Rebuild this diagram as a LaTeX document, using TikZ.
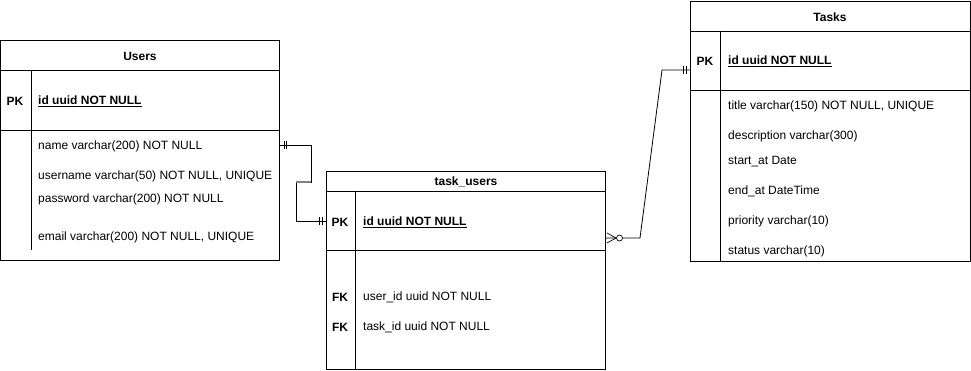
\documentclass[tikz,border=0pt]{standalone}
\usepackage{fontspec}
\setmainfont{Liberation Sans}
\usetikzlibrary{decorations.markings}

\newcommand{\erfont}{\fontsize{12}{14}\selectfont}

\tikzset{
  table/.style={draw, line width=0.9pt, anchor=north west, inner sep=0pt, outer sep=0pt},
  title/.style={font=\erfont\bfseries, yshift=-1pt},
  key/.style={font=\erfont\bfseries, anchor=center, yshift=-1pt},
  field/.style={font=\erfont, anchor=west, inner sep=0pt, yshift=-1.5pt},
  pkfield/.style={field, font=\erfont\bfseries},
  one/.style={postaction={decorate, decoration={markings,
      mark=at position 0 with {\draw[line width=0.8pt] (4pt,-4pt) -- (4pt,4pt) (6.5pt,-4pt) -- (6.5pt,4pt);}}}},
  to one/.style={postaction={decorate, decoration={markings,
      mark=at position 1 with {\draw[line width=0.8pt] (-4pt,-4pt) -- (-4pt,4pt) (-6.5pt,-4pt) -- (-6.5pt,4pt);}}}},
  many/.style={postaction={decorate, decoration={markings,
      mark=at position 0 with {\draw[line width=0.7pt] (1pt,-5pt) -- (10pt,0pt) -- (1pt,5pt);
        \filldraw[line width=0.7pt, fill=white] (13.5pt,0pt) circle (3pt);}}}},
}

\begin{document}
\begin{tikzpicture}[x=1pt, y=-1pt]
  \useasboundingbox (0,0) rectangle (971,371);

  % Users
  \node[table, minimum width=279pt, minimum height=220pt] (users) at (0.5,40.5) {};
  \draw[line width=0.9pt] (0.5,70) -- (280,70) (0.5,130) -- (280,130) (31,70) -- (31,250);
  \node[title] (users title) at (140,55) {Users};
  \node[key] (users pk) at (15,100) {PK};
  \node[pkfield] (users id) at (38,100) {\underline{id uuid NOT NULL}};
  \node[field] (users name) at (38,145) {name varchar(200) NOT NULL};
  \node[field] (users username) at (38,175) {username varchar(50) NOT NULL, UNIQUE};
  \node[field] (users password) at (38,198) {password varchar(200) NOT NULL};
  \node[field] (users email) at (38,236) {email varchar(200) NOT NULL, UNIQUE};

  % task_users
  \node[table, minimum width=279pt, minimum height=198pt] (taskusers) at (326.5,171.5) {};
  \draw[line width=0.9pt] (326.5,191) -- (606,191) (326.5,250) -- (606,250) (355,191) -- (355,369.5);
  \node[title] (taskusers title) at (466,181) {task\_users};
  \node[key] (taskusers pk) at (340,221) {PK};
  \node[pkfield] (taskusers id) at (363,221) {\underline{id uuid NOT NULL}};
  \node[key] (taskusers fk1) at (340,296) {FK};
  \node[field] (taskusers user) at (363,296) {user\_id uuid NOT NULL};
  \node[key] (taskusers fk2) at (340,326) {FK};
  \node[field] (taskusers task) at (363,326) {task\_id uuid NOT NULL};

  % Tasks
  \node[table, minimum width=279.5pt, minimum height=260pt] (tasks) at (690.5,1) {};
  \draw[line width=0.9pt] (690.5,31) -- (970,31) (690.5,90) -- (970,90) (720,31) -- (720,261);
  \node[title] (tasks title) at (830,16) {Tasks};
  \node[key] (tasks pk) at (705,60) {PK};
  \node[pkfield] (tasks id) at (728,60) {\underline{id uuid NOT NULL}};
  \node[field] (tasks title) at (728,105) {title varchar(150) NOT NULL, UNIQUE};
  \node[field] (tasks description) at (728,135) {description varchar(300)};
  \node[field] (tasks start) at (728,160) {start\_at Date};
  \node[field] (tasks end) at (728,190) {end\_at DateTime};
  \node[field] (tasks priority) at (728,220) {priority varchar(10)};
  \node[field] (tasks status) at (728,250) {status varchar(10)};

  % relations
  \coordinate (users link) at (280,145);
  \coordinate (taskusers link) at (326,221);
  \coordinate (taskusers out) at (606,238);
  \coordinate (tasks link) at (690,70);

  \draw[line width=0.8pt, one, to one] (users link) -- (311,145) -- (311,182) -- (296,182) -- (296,221) -- (taskusers link);
  \draw[gray, line width=1.4pt] (296,182) -- (311,182);
  \draw[line width=0.8pt, many, to one] (taskusers out) -- (640,238) -- (662,70) -- (tasks link);
\end{tikzpicture}
\end{document}
